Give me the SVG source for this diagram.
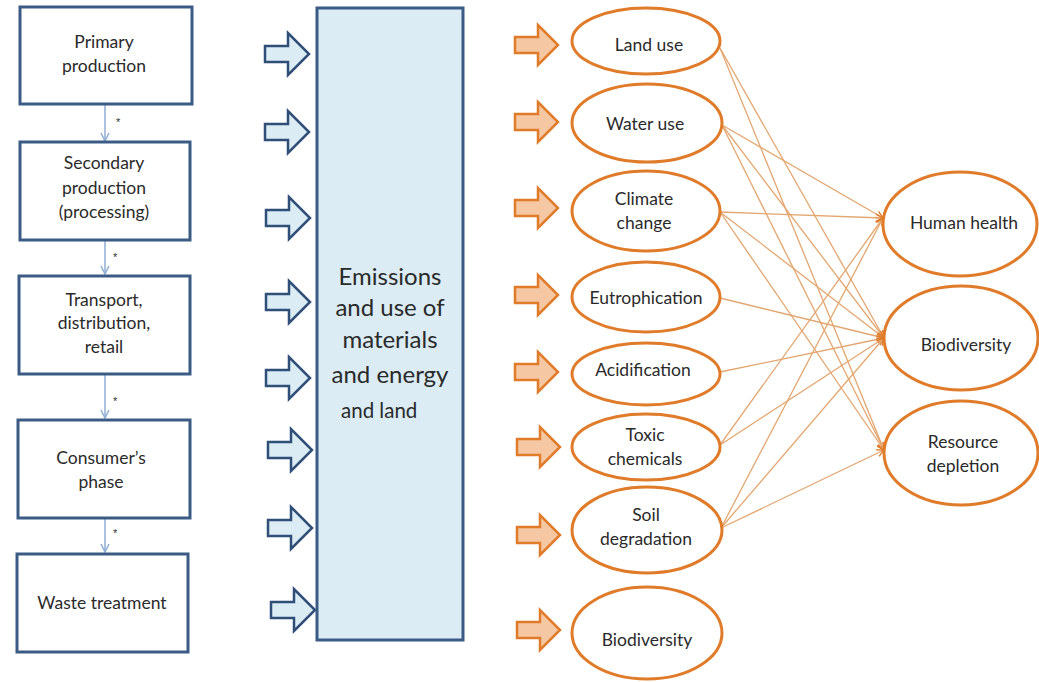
<svg xmlns="http://www.w3.org/2000/svg" width="1039" height="682" viewBox="0 0 1039 682">
<defs>
<style>
.box{fill:#ffffff;stroke:#3b5b85;stroke-width:3}
.main{fill:#dbecf4;stroke:#3b5b85;stroke-width:3}
.t{font-family:Lato,"Open Sans","Liberation Sans",sans-serif;fill:#2a2a2a;text-anchor:middle}
.s{font-size:17.5px}
.big{font-size:24px}
.ell{fill:#ffffff;stroke:#e07b2a;stroke-width:3}
.barr{fill:#dbecf4;stroke:#2f4e78;stroke-width:2.5;stroke-linejoin:miter}
.oarr{fill:#f6c7a3;stroke:#e07b2a;stroke-width:2.5;stroke-linejoin:miter}
.flow{stroke:#8fadd3;stroke-width:1.5;fill:none}
.lnk{stroke:#e3a66f;stroke-width:1.3;fill:none}
.ast{font-family:"Liberation Sans",sans-serif;font-size:11px;fill:#333}
</style>
<marker id="ah" viewBox="0 0 10 10" refX="9" refY="5" markerWidth="9" markerHeight="9" markerUnits="userSpaceOnUse" orient="auto">
<path d="M1,1 L9,5 L1,9" fill="none" stroke="#e07b2a" stroke-width="1.5"/>
</marker>
<marker id="bh" viewBox="0 0 10 10" refX="9" refY="5" markerWidth="10" markerHeight="10" markerUnits="userSpaceOnUse" orient="auto">
<path d="M1,1 L9,5 L1,9" fill="none" stroke="#8fadd3" stroke-width="1.5"/>
</marker>
<path id="ba" d="M0,-8 H23 V-21 L44,0 L23,21 V8 H0 Z"/>
<path id="oa" d="M0,-8 H23 V-20 L43,0 L23,20 V8 H0 Z"/>
</defs>
<rect width="1039" height="682" fill="#ffffff"/>

<g id="connectors">
<line class="flow" x1="105" y1="105" x2="105" y2="141" marker-end="url(#bh)"/>
<line class="flow" x1="105" y1="240" x2="105" y2="274" marker-end="url(#bh)"/>
<line class="flow" x1="105" y1="375" x2="105" y2="418" marker-end="url(#bh)"/>
<line class="flow" x1="105" y1="519" x2="105" y2="552" marker-end="url(#bh)"/>
<text class="ast" x="116" y="126">*</text>
<text class="ast" x="113" y="261">*</text>
<text class="ast" x="113" y="405">*</text>
<text class="ast" x="113" y="537">*</text>

<line class="lnk" x1="720" y1="48" x2="884" y2="338" marker-end="url(#ah)"/>
<line class="lnk" x1="720" y1="48" x2="884" y2="450" marker-end="url(#ah)"/>
<line class="lnk" x1="722" y1="125" x2="883" y2="218" marker-end="url(#ah)"/>
<line class="lnk" x1="722" y1="125" x2="884" y2="338" marker-end="url(#ah)"/>
<line class="lnk" x1="722" y1="125" x2="884" y2="450" marker-end="url(#ah)"/>
<line class="lnk" x1="720" y1="212" x2="883" y2="218" marker-end="url(#ah)"/>
<line class="lnk" x1="720" y1="212" x2="884" y2="338" marker-end="url(#ah)"/>
<line class="lnk" x1="720" y1="212" x2="884" y2="450" marker-end="url(#ah)"/>
<line class="lnk" x1="720" y1="298" x2="884" y2="338" marker-end="url(#ah)"/>
<line class="lnk" x1="720" y1="372" x2="884" y2="338" marker-end="url(#ah)"/>
<line class="lnk" x1="720" y1="445" x2="883" y2="218" marker-end="url(#ah)"/>
<line class="lnk" x1="720" y1="445" x2="884" y2="338" marker-end="url(#ah)"/>
<line class="lnk" x1="721" y1="528" x2="883" y2="218" marker-end="url(#ah)"/>
<line class="lnk" x1="721" y1="528" x2="884" y2="338" marker-end="url(#ah)"/>
<line class="lnk" x1="721" y1="528" x2="884" y2="450" marker-end="url(#ah)"/>

<use href="#ba" class="barr" x="265" y="54"/>
<use href="#ba" class="barr" x="265" y="132"/>
<use href="#ba" class="barr" x="266" y="218"/>
<use href="#ba" class="barr" x="266" y="302"/>
<use href="#ba" class="barr" x="266" y="378"/>
<use href="#ba" class="barr" x="268" y="450"/>
<use href="#ba" class="barr" x="268" y="528"/>
<use href="#ba" class="barr" x="271" y="610"/>

<use href="#oa" class="oarr" x="515" y="45"/>
<use href="#oa" class="oarr" x="515" y="122"/>
<use href="#oa" class="oarr" x="515" y="208"/>
<use href="#oa" class="oarr" x="515" y="295"/>
<use href="#oa" class="oarr" x="515" y="372"/>
<use href="#oa" class="oarr" x="517" y="447"/>
<use href="#oa" class="oarr" x="517" y="535"/>
<use href="#oa" class="oarr" x="517" y="630"/>
</g>

<g id="n-primary">
<rect class="box" x="20" y="7" width="172" height="97"/>
<text class="t s" x="104" y="48">Primary</text>
<text class="t s" x="104" y="72">production</text>
</g>
<g id="n-secondary">
<rect class="box" x="20" y="142" width="170" height="98"/>
<text class="t s" x="104" y="169">Secondary</text>
<text class="t s" x="104" y="194">production</text>
<text class="t s" x="104" y="218">(processing)</text>
</g>
<g id="n-transport">
<rect class="box" x="19" y="276" width="171" height="98"/>
<text class="t s" x="104" y="306">Transport,</text>
<text class="t s" x="104" y="329">distribution,</text>
<text class="t s" x="104" y="353">retail</text>
</g>
<g id="n-consumer">
<rect class="box" x="18" y="420" width="172" height="98"/>
<text class="t s" x="101" y="464">Consumer’s</text>
<text class="t s" x="101" y="488">phase</text>
</g>
<g id="n-waste">
<rect class="box" x="17" y="554" width="171" height="98"/>
<text class="t s" x="102" y="609">Waste treatment</text>
</g>

<g id="n-emissions">
<rect class="main" x="317" y="8" width="146" height="632"/>
<text class="t big" x="390" y="285">Emissions</text>
<text class="t big" x="390" y="316">and use of</text>
<text class="t big" x="390" y="348">materials</text>
<text class="t big" x="390" y="383">and energy</text>
<text class="t" x="341" y="418" style="font-size:20.5px;text-anchor:start">and land</text>
</g>

<g id="n-landuse">
<ellipse class="ell" cx="646" cy="41" rx="74" ry="33"/>
<text class="t s" x="649" y="51">Land use</text>
</g>
<g id="n-wateruse">
<ellipse class="ell" cx="647" cy="123" rx="75" ry="39"/>
<text class="t s" x="645" y="130">Water use</text>
</g>
<g id="n-climate">
<ellipse class="ell" cx="646" cy="211" rx="74" ry="40"/>
<text class="t s" x="644" y="205">Climate</text>
<text class="t s" x="644" y="229">change</text>
</g>
<g id="n-eutro">
<ellipse class="ell" cx="646" cy="297" rx="74" ry="35"/>
<text class="t s" x="646" y="304">Eutrophication</text>
</g>
<g id="n-acid">
<ellipse class="ell" cx="646" cy="374" rx="74" ry="31"/>
<text class="t s" x="643" y="376">Acidification</text>
</g>
<g id="n-toxic">
<ellipse class="ell" cx="646" cy="447" rx="74" ry="33"/>
<text class="t s" x="645" y="441">Toxic</text>
<text class="t s" x="645" y="465">chemicals</text>
</g>
<g id="n-soil">
<ellipse class="ell" cx="647" cy="530" rx="75" ry="43"/>
<text class="t s" x="646" y="521">Soil</text>
<text class="t s" x="646" y="545">degradation</text>
</g>
<g id="n-biodiv1">
<ellipse class="ell" cx="647" cy="633" rx="75" ry="46"/>
<text class="t s" x="647" y="646">Biodiversity</text>
</g>

<g id="n-human">
<ellipse class="ell" cx="960" cy="224" rx="77" ry="52"/>
<text class="t s" x="964" y="229">Human health</text>
</g>
<g id="n-biodiv2">
<ellipse class="ell" cx="961" cy="338" rx="77" ry="52"/>
<text class="t s" x="966" y="351">Biodiversity</text>
</g>
<g id="n-resource">
<ellipse class="ell" cx="961" cy="453" rx="77" ry="52"/>
<text class="t s" x="963" y="448">Resource</text>
<text class="t s" x="963" y="472">depletion</text>
</g>
</svg>
